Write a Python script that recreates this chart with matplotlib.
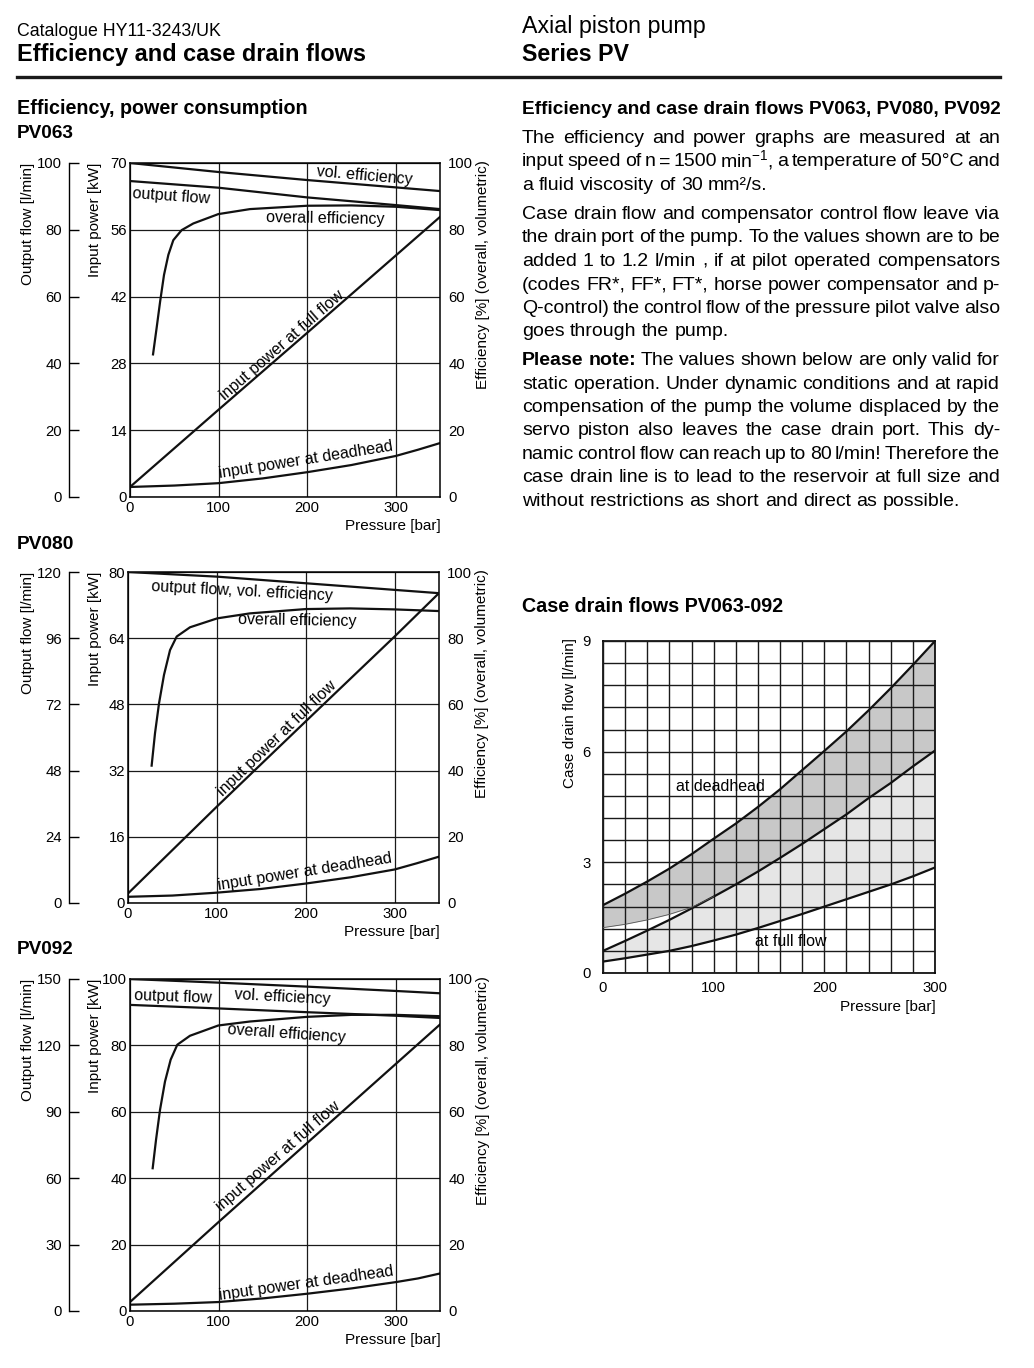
import numpy as np
import matplotlib
matplotlib.use("Agg")
import matplotlib.pyplot as plt
from matplotlib.lines import Line2D

plt.rcParams['font.family'] = ['Liberation Sans', 'DejaVu Sans']
plt.rcParams['mathtext.fontset'] = 'custom'
plt.rcParams['mathtext.rm'] = 'Liberation Sans'
plt.rcParams['mathtext.it'] = 'Liberation Sans:italic'
plt.rcParams['mathtext.bf'] = 'Liberation Sans:bold'

W, H = 1034, 1368

# ---------------- data ----------------
p_lines = [0, 100, 200, 300, 350]
p_dead = [0, 50, 100, 150, 200, 250, 300, 325, 350]

# PV063
pv063_vol_eff = [100, 97.3, 94.9, 92.7, 91.6]          # %
pv063_flow = [94.6, 92.6, 89.7, 87.4, 86.2]            # l/min
pv063_full_kw = [2.1, 18.3, 34.4, 50.6, 58.7]          # kW
pv063_dead_kw = [2.1, 2.4, 2.9, 3.9, 5.2, 6.7, 8.6, 9.9, 11.3]
pv063_p_overall = [26, 30, 34, 38.4, 43.3, 48.9, 58.3, 71.5, 99.7, 135.5, 200, 250, 300, 350]
pv063_overall = [42.7, 50.5, 58.5, 66.5, 72.5, 76.9, 79.9, 81.9, 84.7, 86.2, 87.2, 87.3, 86.9, 85.9]

# PV080
pv080_flow_vol = [100, 98.6, 96.6, 94.6, 93.6]         # %
pv080_full_kw = [2.3, 23.3, 43.9, 64.4, 74.9]
pv080_dead_kw = [1.5, 1.8, 2.5, 3.4, 4.7, 6.2, 8.1, 9.6, 11.2]
pv080_p_overall = [26.6, 30.4, 34.9, 40.5, 47.3, 54.8, 69.8, 100.5, 137.3, 200, 250, 300, 350]
pv080_overall = [41.5, 51.3, 60.3, 68.9, 76.4, 80.5, 83.3, 86.0, 87.5, 88.8, 89.0, 88.7, 88.2]

# PV092
pv092_vol_eff = [100, 98.9, 97.7, 96.4, 95.7]
pv092_flow = [138.3, 136.7, 135.0, 133.4, 132.4]
pv092_full_kw = [2.7, 26.8, 50.6, 74.4, 86.3]
pv092_dead_kw = [1.9, 2.2, 2.7, 3.8, 5.2, 6.8, 8.7, 9.8, 11.3]
pv092_p_overall = [25.6, 29.4, 33.9, 39.5, 45.9, 53.4, 67.7, 99.7, 135.5, 200, 250, 300, 350]
pv092_overall = [43.0, 51.6, 60.6, 69.1, 75.7, 80.2, 82.9, 86.0, 87.2, 88.6, 89.2, 89.2, 88.8]

# case drain flows
cd_p = [0, 20, 40, 60, 80, 100, 120, 140, 160, 180, 200, 220, 240, 260, 280, 300]
cd_dead_top = [1.84, 2.15, 2.48, 2.83, 3.22, 3.64, 4.05, 4.5, 4.98, 5.5, 6.02, 6.55, 7.12, 7.72, 8.35, 9.0]
cd_mid = [0.6, 0.87, 1.15, 1.44, 1.75, 2.07, 2.4, 2.75, 3.12, 3.5, 3.9, 4.3, 4.74, 5.15, 5.6, 6.03]
cd_full_low = [0.31, 0.4, 0.5, 0.6, 0.73, 0.88, 1.04, 1.22, 1.41, 1.6, 1.8, 2.0, 2.2, 2.4, 2.62, 2.86]
cd_p_thin = [0, 20, 40, 60, 80, 100]
cd_dead_low = [1.23, 1.32, 1.44, 1.59, 1.78, 2.07]

# text
body_lines = [
    ["The efficiency and power graphs are measured at an",
     "input speed of n = 1500 min$^{-1}$, a temperature of 50°C and",
     "a fluid viscosity of 30 mm²/s."],
    ["Case drain flow and compensator control flow leave via",
     "the drain port of the pump. To the values shown are to be",
     "added 1 to 1.2 l/min , if at pilot operated compensators",
     "(codes FR*, FF*, FT*, horse power compensator and p-",
     "Q-control) the control flow of the pressure pilot valve also",
     "goes through the pump."],
    ["Please note: The values shown below are only valid for",
     "static operation. Under dynamic conditions and at rapid",
     "compensation of the pump the volume displaced by the",
     "servo piston also leaves the case drain port. This dy-",
     "namic control flow can reach up to 80 l/min! Therefore the",
     "case drain line is to lead to the reservoir at full size and",
     "without restrictions as short and direct as possible."],
]

fig = plt.figure(figsize=(W / 100, H / 100), dpi=100)
renderer = fig.canvas.get_renderer()


def fx(x):
    return x / W


def fy(y):
    return 1 - y / H


def fit_text(s, x0, x1, base_y, weight='normal'):
    t = fig.text(fx(x0), fy(base_y), s, fontsize=12, weight=weight, va='baseline')
    w = t.get_window_extent(renderer).width
    t.set_fontsize(12 * (x1 - x0) / w)
    return t


def put_line(line, base_y, justify, nbold=0, size=14.0, x0=522, x1=1000):
    words = line.split(' ')
    while True:
        texts = []
        for i, wd in enumerate(words):
            texts.append(fig.text(0, fy(base_y), wd, fontsize=size, va='baseline',
                                  weight='bold' if i < nbold else 'normal'))
        widths = [t.get_window_extent(renderer).width for t in texts]
        space = 0.278 * size * 100 / 72
        total = sum(widths)
        if justify and total + 0.55 * space * (len(words) - 1) > (x1 - x0):
            for t in texts:
                t.remove()
            size -= 0.2
            continue
        break
    gap = (x1 - x0 - total) / (len(words) - 1) if justify else space
    x = x0
    for t, w in zip(texts, widths):
        t.set_x(fx(x))
        x += w + gap


def eff_chart(box, kw_max, flow_max, flow_spine_x=69):
    l, t, r, b = box
    ax = fig.add_axes([fx(l), fy(b), (r - l) / W, (b - t) / H])
    ax.set_xlim(0, 350)
    ax.set_ylim(0, kw_max)
    ax.set_xticks([0, 100, 200, 300])
    ax.set_yticks(np.linspace(0, kw_max, 6))
    ax.yaxis.set_major_formatter(lambda v, pos: f"{v:g}")
    ax.grid(True, color='#1a1a1a', lw=0.9)
    ax.tick_params(length=0, labelsize=10.7)
    ax.tick_params(axis='x', pad=3)
    ax.tick_params(axis='y', pad=2)
    for s in ax.spines.values():
        s.set_linewidth(1.1)

    ax_e = ax.twinx()
    ax_e.set_ylim(0, 100)
    ax_e.set_yticks(range(0, 101, 20))
    ax_e.tick_params(length=0, labelsize=10.7, pad=6)
    for s in ax_e.spines.values():
        s.set_visible(False)

    ax_f = ax.twinx()
    ax_f.set_ylim(0, flow_max)
    ax_f.set_yticks(np.linspace(0, flow_max, 6))
    ax_f.yaxis.set_major_formatter(lambda v, pos: f"{v:g}")
    ax_f.yaxis.tick_left()
    for s in ax_f.spines.values():
        s.set_visible(False)
    ax_f.spines['left'].set_visible(True)
    ax_f.spines['left'].set_position(('axes', (flow_spine_x - l) / (r - l)))
    ax_f.spines['left'].set_linewidth(1.0)
    ax_f.tick_params(axis='y', direction='in', length=7.5, width=1.0, pad=5, labelsize=10.7)

    fig.text(fx(28), fy(t), 'Output flow [l/min]', rotation=90, rotation_mode='anchor',
             ha='right', va='center', fontsize=11)
    fig.text(fx(95), fy(t), 'Input power [kW]', rotation=90, rotation_mode='anchor',
             ha='right', va='center', fontsize=11)
    fig.text(fx(r + 43), fy(t - 3), 'Efficiency [%] (overall, volumetric)', rotation=90,
             rotation_mode='anchor', ha='right', va='center', fontsize=11)
    fig.text(fx(r + 1), fy(b + 29), 'Pressure [bar]', ha='right', va='center', fontsize=11)
    return ax, ax_e, ax_f


lw = 1.6
note = dict(fontsize=11.5, ha='center', va='center')

# ---------------- header ----------------
fit_text('Catalogue HY11-3243/UK', 17, 222, 36)
fit_text('Efficiency and case drain flows', 17, 363, 61, 'bold')
fit_text('Axial piston pump', 522, 706, 33)
fit_text('Series PV', 522, 629, 61, 'bold')
fig.add_artist(Line2D([fx(17), fx(1000)], [fy(77), fy(77)], color='#1a1a1a', lw=2.4))

fit_text('Efficiency, power consumption', 17, 306, 114, 'bold')
fit_text('PV063', 17, 74, 138, 'bold')
fit_text('PV080', 17, 74, 549, 'bold')
fit_text('PV092', 17, 74, 954, 'bold')
fit_text('Efficiency and case drain flows PV063, PV080, PV092', 522, 1000, 114, 'bold')
fit_text('Case drain flows PV063-092', 522, 781, 612, 'bold')

# ---------------- body text ----------------
base = [143, 219, 365]
for para, y0 in zip(body_lines, base):
    for i, line in enumerate(para):
        last = i == len(para) - 1
        nb = 2 if line.startswith('Please note:') else 0
        put_line(line, y0 + i * 23.5, not last, nbold=nb)

# ---------------- PV063 ----------------
ax, ax_e, ax_f = eff_chart((130, 163, 440, 497), 70, 100)
ax_e.plot(p_lines, pv063_vol_eff, color='#111111', lw=lw)
ax_f.plot(p_lines, pv063_flow, color='#111111', lw=lw)
ax_e.plot(pv063_p_overall, pv063_overall, color='#111111', lw=lw)
ax.plot(p_lines, pv063_full_kw, color='#111111', lw=lw)
ax.plot(p_dead, pv063_dead_kw, color='#111111', lw=lw)
ax_e.text(265, 96.1, 'vol. efficiency', rotation=-5, **note)
ax_e.text(47, 90.1, 'output flow', rotation=-4, **note)
ax_e.text(221, 83.5, 'overall efficiency', rotation=-1, **note)
ax_e.text(172, 45.5, 'input power at full flow', rotation=41, **note)
ax_e.text(198, 11.1, 'input power at deadhead', rotation=9, **note)

# ---------------- PV080 ----------------
ax, ax_e, ax_f = eff_chart((128, 572, 439, 903), 80, 120)
ax_e.plot(p_lines, pv080_flow_vol, color='#111111', lw=lw)
ax_e.plot(pv080_p_overall, pv080_overall, color='#111111', lw=lw)
ax.plot(p_lines, pv080_full_kw, color='#111111', lw=lw)
ax.plot(p_dead, pv080_dead_kw, color='#111111', lw=lw)
ax_e.text(128, 94.3, 'output flow, vol. efficiency', rotation=-3, **note)
ax_e.text(191, 85.2, 'overall efficiency', rotation=-1, **note)
ax_e.text(168, 49.8, 'input power at full flow', rotation=44, **note)
ax_e.text(199, 9.4, 'input power at deadhead', rotation=9, **note)

# ---------------- PV092 ----------------
ax, ax_e, ax_f = eff_chart((130, 979, 440, 1311), 100, 150)
ax_e.plot(p_lines, pv092_vol_eff, color='#111111', lw=lw)
ax_f.plot(p_lines, pv092_flow, color='#111111', lw=lw)
ax_e.plot(pv092_p_overall, pv092_overall, color='#111111', lw=lw)
ax.plot(p_lines, pv092_full_kw, color='#111111', lw=lw)
ax.plot(p_dead, pv092_dead_kw, color='#111111', lw=lw)
ax_e.text(49, 94.7, 'output flow', rotation=-2, **note)
ax_e.text(172, 94.7, 'vol. efficiency', rotation=-3, **note)
ax_e.text(177, 83.5, 'overall efficiency', rotation=-4, **note)
ax_e.text(167, 46.7, 'input power at full flow', rotation=41, **note)
ax_e.text(199, 8.4, 'input power at deadhead', rotation=8, **note)

# ---------------- case drain flows ----------------
l, t, r, b = 603, 641, 935, 973
cd = fig.add_axes([fx(l), fy(b), (r - l) / W, (b - t) / H])
cd.set_xlim(0, 300)
cd.set_ylim(0, 9)
cd.set_xticks([0, 100, 200, 300])
cd.set_yticks([0, 3, 6, 9])
cd.set_xticks(cd_p, minor=True)
cd.set_yticks(np.linspace(0, 9, 16), minor=True)
cd.grid(True, which='both', color='#1a1a1a', lw=1.0, zorder=1)
cd.set_axisbelow(False)
cd.tick_params(which='both', length=0, labelsize=10.7)
cd.tick_params(axis='x', pad=6)
cd.tick_params(axis='y', pad=9)
for s in cd.spines.values():
    s.set_linewidth(1.2)
cd.fill_between(cd_p, cd_mid, cd_dead_top, color='#c8c8c8', lw=0, zorder=0.5)
cd.fill_between(cd_p_thin, cd_mid[:len(cd_p_thin)], cd_dead_low, color='white', lw=0, zorder=0.6)
cd.fill_between(cd_p, cd_full_low, cd_mid, color='#e6e6e6', lw=0, zorder=0.5)
cd.plot(cd_p, cd_dead_top, color='#111111', lw=lw, zorder=3)
cd.plot(cd_p, cd_mid, color='#111111', lw=lw, zorder=3)
cd.plot(cd_p, cd_full_low, color='#111111', lw=lw, zorder=3)
cd.plot(cd_p_thin, cd_dead_low, color='#555555', lw=0.6, zorder=3)
cd.text(106, 5.05, 'at deadhead', zorder=4, **note)
cd.text(170, 0.85, 'at full flow', zorder=4, **note)
fig.text(fx(570), fy(t - 3), 'Case drain flow [l/min]', rotation=90, rotation_mode='anchor',
         ha='right', va='center', fontsize=11)
fig.text(fx(r + 1), fy(b + 34), 'Pressure [bar]', ha='right', va='center', fontsize=11)

fig.savefig('out.png', dpi=100, facecolor='white')
